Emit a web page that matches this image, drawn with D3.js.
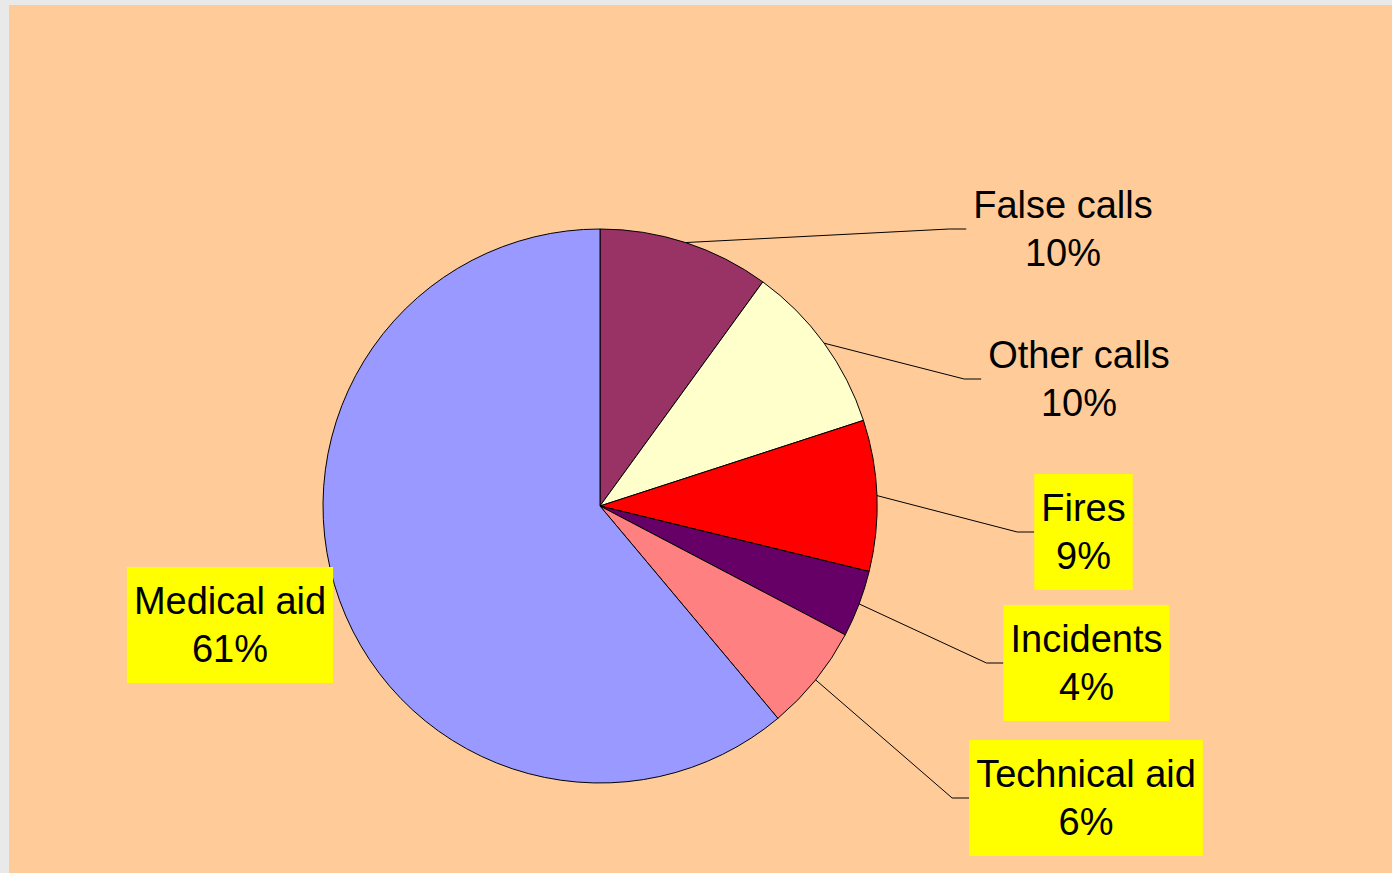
<!DOCTYPE html>
<html>
<head>
<meta charset="utf-8">
<script src="https://cdn.jsdelivr.net/npm/d3@7"></script>
<style>
  body { margin: 0; background: #e9e9e9; overflow: hidden; }
  text { font-family: "Liberation Sans", Arial, sans-serif; }
</style>
</head>
<body>
<script>
// categories in drawing order, clockwise from 12 o'clock
var categories = ["False calls", "Other calls", "Fires", "Incidents", "Technical aid", "Medical aid"];
var shares = [10.0, 10.0, 8.8, 3.9, 6.2, 61.1];
var colors = ["#993366", "#FFFFCC", "#FF0000", "#660066", "#FF8080", "#9999FF"];
var boxed = [false, false, true, true, true, true];

// label layout (center x, vertical middle of the label block)
var labelPos = [[1063, 229], [1079, 379], [1083.5, 532], [1086.5, 663], [1086, 798], [230, 625]];
var leader = [true, true, true, true, true, false];

var width = 1392, height = 873;
var cx = 600, cy = 506, radius = 277;

var svg = d3.select("body").append("svg").attr("width", width).attr("height", height);

svg.append("rect")
    .attr("x", 9).attr("y", 5)
    .attr("width", width - 9).attr("height", height - 5)
    .style("fill", "#FFCC99");

var data = categories.map(function (c, i) { return { name: c, value: shares[i], i: i }; });
var total = d3.sum(shares);

var pie = d3.pie().sort(null).value(function (d) { return d.value; });
var arc = d3.arc().innerRadius(0).outerRadius(radius);
var arcs = pie(data);

var chartGroup = svg.append("g").attr("transform", "translate(" + cx + "," + cy + ")");

chartGroup.selectAll("path")
    .data(arcs)
    .enter()
    .append("path")
        .attr("d", arc)
        .style("fill", function (d) { return colors[d.data.i]; })
        .style("stroke", "#000")
        .style("stroke-width", 1);

var pct = d3.format(".0f");
var leaders = svg.append("g");
var labels = svg.append("g");

arcs.forEach(function (a) {
    var i = a.data.i;
    var lx = labelPos[i][0], ly = labelPos[i][1];
    var g = labels.append("g");
    var box = g.append("rect");
    var t = g.append("text")
        .attr("text-anchor", "middle")
        .style("font-size", "38px")
        .style("fill", "#000");
    t.append("tspan").attr("x", lx).attr("y", ly - 11).text(a.data.name);
    t.append("tspan").attr("x", lx).attr("y", ly + 37).text(pct(a.data.value / total * 100) + "%");

    var bb = t.node().getBBox();
    var left = lx - bb.width / 2 - 7;
    if (boxed[i]) {
        box.attr("x", left).attr("y", ly - 58)
            .attr("width", bb.width + 14).attr("height", 116)
            .style("fill", "#FFFF00");
    } else {
        box.remove();
    }

    if (leader[i]) {
        var mid = (a.startAngle + a.endAngle) / 2;
        var sx = cx + radius * Math.sin(mid), sy = cy - radius * Math.cos(mid);
        leaders.append("path")
            .attr("d", d3.line()([[sx, sy], [left - 17, ly], [left, ly]]))
            .style("fill", "none")
            .style("stroke", "#000")
            .style("stroke-width", 1);
    }
});
</script>
</body>
</html>
